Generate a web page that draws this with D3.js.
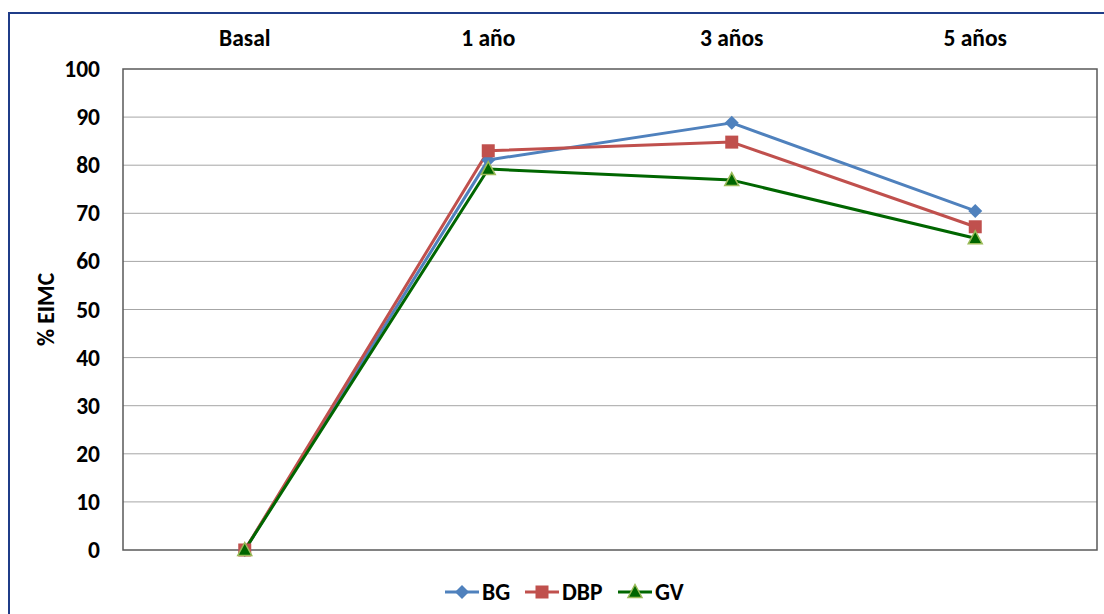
<!DOCTYPE html>
<html>
<head>
<meta charset="utf-8">
<script src="https://cdn.jsdelivr.net/npm/d3@7"></script>
<style>
  html, body { margin: 0; padding: 0; background: #fff; }
  svg { display: block; font-family: Carlito, "Open Sans", "Liberation Sans", sans-serif; }
</style>
</head>
<body>
<svg id="chart" width="1104" height="614"></svg>
<script>
// Categories (time points) and % EIMC per group
const categories = ["Basal", "1 año", "3 años", "5 años"];
const seriesNames = ["BG", "DBP", "GV"];
const bgValues  = [0, 81.1, 88.8, 70.5];
const dbpValues = [0, 83.0, 84.8, 67.2];
const gvValues  = [0, 79.2, 76.9, 64.8];
const yTicks = [0, 10, 20, 30, 40, 50, 60, 70, 80, 90, 100];
const yTitle = "% EIMC";

const series = [
  { name: seriesNames[0], values: bgValues,  color: "#4F81BD", marker: "diamond" },
  { name: seriesNames[1], values: dbpValues, color: "#C0504D", marker: "square" },
  { name: seriesNames[2], values: gvValues,  color: "#006600", marker: "triangle" }
];

const FONT = "Carlito, 'Open Sans', 'Liberation Sans', sans-serif";
const FS = 23.5;

const svg = d3.select("#chart");
const plot = { left: 123, right: 1097, top: 69, bottom: 550 };

// Outer frame (top and left edges visible)
svg.append("path")
  .attr("d", "M9,614 L9,13 L1104,13")
  .attr("fill", "none").attr("stroke", "#1F3C88").attr("stroke-width", 2);

const x = d3.scaleBand().domain(categories).range([plot.left, plot.right]);
const y = d3.scaleLinear().domain([0, 100]).range([plot.bottom, plot.top]);

// Gridlines
svg.append("g").selectAll("line").data(yTicks.filter(t => t > 0 && t < 100)).join("line")
  .attr("x1", plot.left).attr("x2", plot.right)
  .attr("y1", d => y(d)).attr("y2", d => y(d))
  .attr("stroke", "#A6A6A6").attr("stroke-width", 1);

// Plot area box
svg.append("rect")
  .attr("x", plot.left).attr("y", plot.top)
  .attr("width", plot.right - plot.left).attr("height", plot.bottom - plot.top)
  .attr("fill", "none").attr("stroke", "#595959").attr("stroke-width", 1.5);

// Y axis labels
const yAxis = d3.axisLeft(y).tickValues(yTicks).tickSize(0).tickPadding(23);
const yg = svg.append("g").attr("transform", `translate(${plot.left},0)`).call(yAxis);
yg.select(".domain").remove();
yg.selectAll("text").attr("font-size", FS).attr("font-weight", "bold").attr("fill", "#000")
  .attr("font-family", FONT);

// Category labels on top
const xAxis = d3.axisTop(x).tickSize(0).tickPadding(23);
const xg = svg.append("g").attr("transform", `translate(0,${plot.top})`).call(xAxis);
xg.select(".domain").remove();
xg.selectAll("text").attr("font-size", FS).attr("font-weight", "bold").attr("fill", "#000")
  .attr("font-family", FONT);

// Y axis title
svg.append("text")
  .attr("transform", `translate(54,${(plot.top + plot.bottom) / 2}) rotate(-90)`)
  .attr("text-anchor", "middle")
  .attr("font-size", FS).attr("font-weight", "bold")
  .text(yTitle);

const cx = c => x(c) + x.bandwidth() / 2;
const line = d3.line().x((d, i) => cx(categories[i])).y(d => y(d));

function drawMarker(g, type, color, px, py) {
  if (type === "diamond") {
    g.append("path").attr("d", `M${px},${py - 7} L${px + 7},${py} L${px},${py + 7} L${px - 7},${py} Z`)
      .attr("fill", color);
  } else if (type === "square") {
    g.append("rect").attr("x", px - 6.5).attr("y", py - 6.5).attr("width", 13).attr("height", 13)
      .attr("fill", color);
  } else {
    g.append("path").attr("d", `M${px},${py - 7.5} L${px + 7},${py + 5.5} L${px - 7},${py + 5.5} Z`)
      .attr("fill", color).attr("stroke", "#9BBB59").attr("stroke-width", 1.5);
  }
}

series.forEach(s => {
  svg.append("path").datum(s.values).attr("d", line)
    .attr("fill", "none").attr("stroke", s.color).attr("stroke-width", 3)
    .attr("stroke-linejoin", "round");
});
series.forEach(s => {
  const g = svg.append("g");
  s.values.forEach((v, i) => drawMarker(g, s.marker, s.color, cx(categories[i]), y(v)));
});

// Legend
const legendX = [445, 525, 618];
series.forEach((s, i) => {
  const g = svg.append("g").attr("transform", `translate(${legendX[i]},592)`);
  g.append("line").attr("x1", 0).attr("x2", 34).attr("y1", 0).attr("y2", 0)
    .attr("stroke", s.color).attr("stroke-width", 3);
  drawMarker(g, s.marker, s.color, 17, 0);
  g.append("text").attr("x", 37).attr("y", 8)
    .attr("font-size", FS).attr("font-weight", "bold").text(s.name);
});
</script>
</body>
</html>
